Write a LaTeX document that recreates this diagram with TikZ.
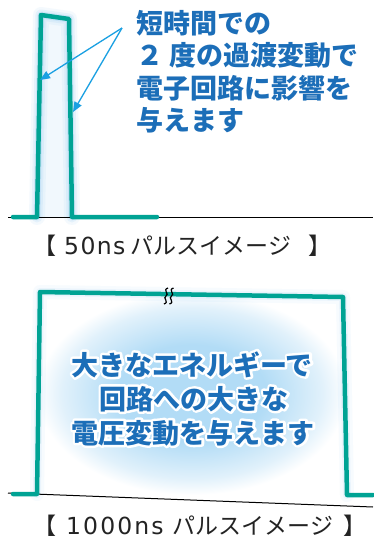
\documentclass[tikz,border=0pt]{standalone}
\usepackage{fontspec}
\newfontfamily\cjk{Noto Sans CJK JP}
\newfontfamily\latinlab{DejaVu Sans}[LetterSpace=6]
\usetikzlibrary{calc,arrows.meta}
\definecolor{teal1}{RGB}{0,163,148}
\definecolor{arrowc}{RGB}{26,160,226}
\definecolor{textb}{RGB}{28,110,184}
\definecolor{labelc}{RGB}{35,35,35}
\definecolor{glowc}{RGB}{120,190,240}
\definecolor{gb}{RGB}{178,220,246}
\definecolor{gbl}{RGB}{225,241,251}
\pgfdeclareradialshading{softglow}{\pgfpoint{0bp}{0bp}}{color(0bp)=(gb); color(12bp)=(gb); color(21bp)=(gbl); color(25bp)=(white); color(50bp)=(white)}
% blue text with a white outline: stroked copy (text render mode 1) under a filled copy
\newcommand\haloed[1]{\leavevmode\rlap{\color{white}\special{pdf:literal direct 1 Tr 5 w 1 j 1 J 1 1 1 RG}#1\special{pdf:literal direct 0 Tr}}#1}
\newcommand\lat[1]{{\latinlab\fontsize{23.5}{26}\selectfont #1}}
\newcommand\latw[1]{{\latinlab\addfontfeature{LetterSpace=9}\fontsize{23.5}{26}\selectfont #1}}
\tikzset{
  pulse/.style={draw=teal1, line width=4.5pt, line join=round, line cap=round},
  axis/.style={draw=black, line width=1pt},
  glow/.style={draw=glowc, line join=round, line cap=round},
  callout/.style={draw=arrowc, line width=1.3pt, -{Triangle[length=10pt,width=8pt]}},
  toptext/.style={font=\cjk\bfseries\fontsize{27}{30}\selectfont, text=textb, inner sep=0pt, anchor=base west},
  bigtext/.style={font=\cjk\bfseries\fontsize{27}{30}\selectfont, text=textb, inner sep=0pt, anchor=base},
  labeltext/.style={font=\cjk\fontsize{23}{24}\selectfont, text=labelc, inner sep=0pt, anchor=base west},
  squig/.style={draw=black, line width=1.2pt}
}
\begin{document}
\begin{tikzpicture}[x=1pt,y=-1pt]
\useasboundingbox[fill=white] (0,0) rectangle (373,541);
% ---------- top: 50 ns pulse ----------
\coordinate (t0) at (13,217);
\coordinate (t1) at (37,217);
\coordinate (t2) at (41,15);
\coordinate (t3) at (69,19);
\coordinate (t4) at (72,217);
\coordinate (t5) at (157,217);
\coordinate (ta) at (8,217);
\coordinate (tb) at (373,217);
\fill[gbl, opacity=0.45] (t1) -- (t2) -- (t3) -- (t4) -- cycle;
\draw[glow, line width=16pt, opacity=0.08] (t1) -- (t2) -- (t3) -- (t4);
\draw[glow, line width=11pt, opacity=0.12] (t1) -- (t2) -- (t3) -- (t4);
\draw[glow, line width=7pt, opacity=0.2] (t1) -- (t2) -- (t3) -- (t4);
\draw[axis] (ta) -- (tb);
\draw[pulse] (t0) -- (t1) -- (t2) -- (t3) -- (t4) -- (t5);
% callout arrows
\coordinate (cs) at (122,28);
\coordinate (ce1) at (40,80);
\coordinate (ce2) at (73,112);
\draw[callout] (cs) -- (ce1);
\draw[callout] (cs) -- (ce2);
% callout text
\node[toptext] (l1) at (136,33) {短時間での};
\node[toptext] (l2) at (136,65.5) {２ 度の過渡変動で};
\node[toptext] (l3) at (136,98) {電子回路に影響を};
\node[toptext] (l4) at (136,130.5) {与えます};
\node[labeltext] (lab1) at (33,254) {【\hspace{8pt}\lat{50ns}\hspace{5pt}パルスイメージ\hspace{17pt}】};
% ---------- bottom: 1000 ns pulse ----------
\coordinate (b0) at (13,494);
\coordinate (b1) at (37,494);
\coordinate (b2) at (40,292);
\coordinate (b3) at (343,297);
\coordinate (b4) at (347,495);
\coordinate (b5) at (373,495);
\coordinate (ba) at (8,493);
\coordinate (bb) at (373,507);
\shade[shading=softglow] (b1) -- (b2) -- (b3) -- (b4) -- cycle;
\draw[glow, line width=14pt, opacity=0.06] (b1) -- (b2) -- (b3) -- (b4);
\draw[glow, line width=8pt, opacity=0.1] (b1) -- (b2) -- (b3) -- (b4);
\draw[axis] (ba) -- (bb);
\draw[pulse] (b0) -- (b1) -- (b2) -- (b3) -- (b4) -- (b5);
% break mark
\coordinate (s1) at (166,296);
\coordinate (s2) at (171.5,296);
\draw[squig] ($(s1)+(2,-8)$) .. controls ($(s1)+(-4,-6)$) and ($(s1)+(4,-2)$) .. (s1) .. controls ($(s1)+(-4,2)$) and ($(s1)+(4,6)$) .. ($(s1)+(-2,8)$);
\draw[squig] ($(s2)+(2,-8)$) .. controls ($(s2)+(-4,-6)$) and ($(s2)+(4,-2)$) .. (s2) .. controls ($(s2)+(-4,2)$) and ($(s2)+(4,6)$) .. ($(s2)+(-2,8)$);
% big text with white outline
\node[bigtext] (b1t) at (192,375) {\haloed{大きなエネルギーで}};
\node[bigtext] (b2t) at (194,409) {\haloed{回路への大きな}};
\node[bigtext] (b3t) at (193,443) {\haloed{電圧変動を与えます}};
\node[labeltext] (lab2) at (33,534) {【\hspace{10pt}\latw{1000ns}\hspace{9pt}パルスイメージ\hspace{10pt}】};
\end{tikzpicture}
\end{document}
